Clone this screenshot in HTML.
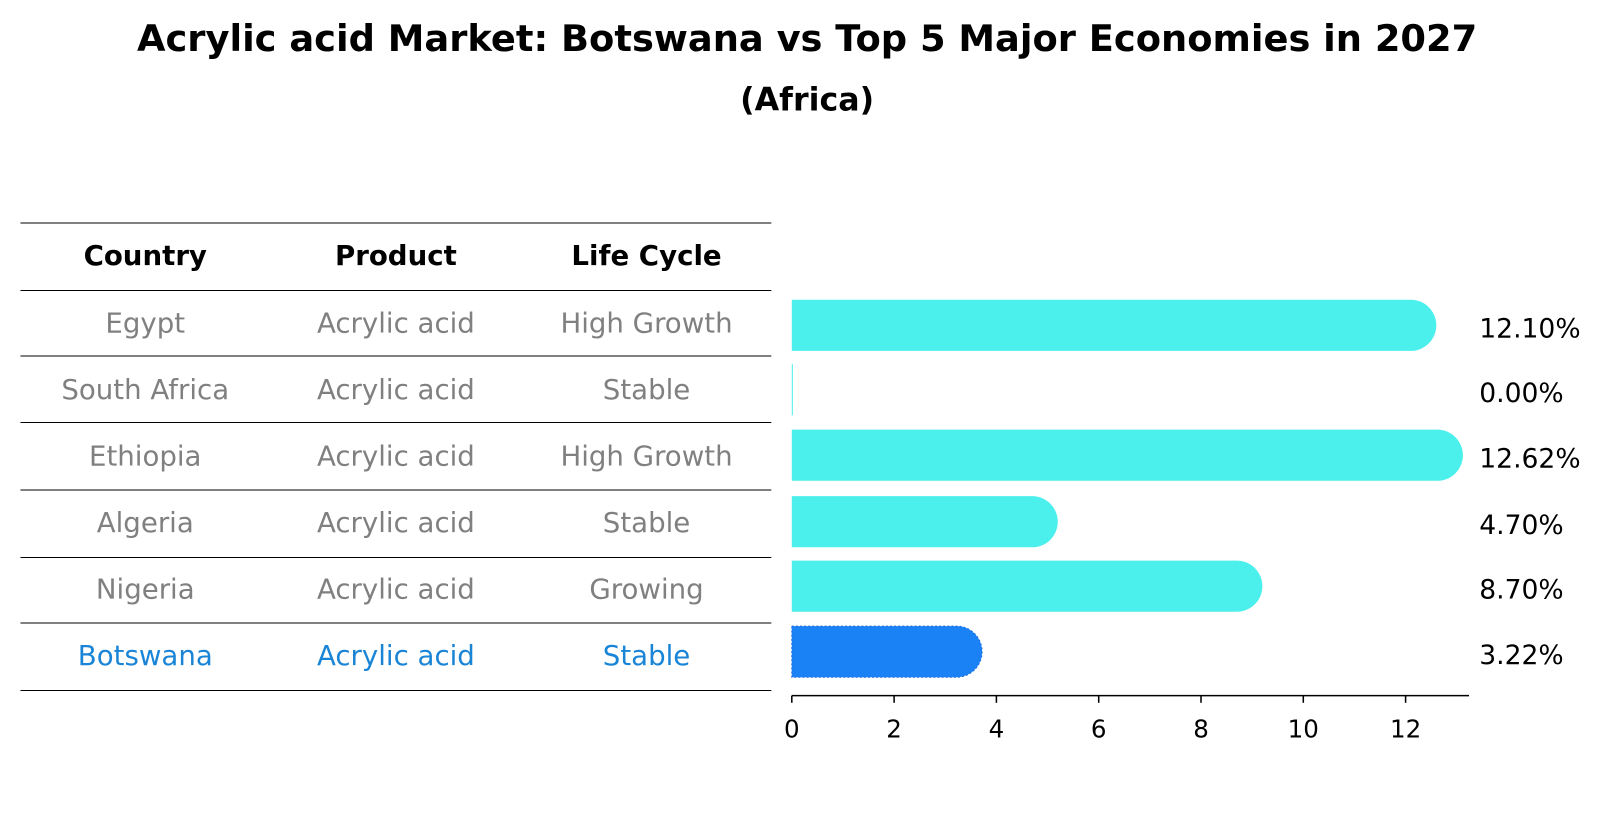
<!DOCTYPE html>
<html><head><meta charset="utf-8"><style>
body{margin:0;background:#fff;font-family:"Liberation Sans","DejaVu Sans",sans-serif;}
</style></head><body>
<svg width="1604" height="823" xmlns="http://www.w3.org/2000/svg" font-family="DejaVu Sans, Liberation Sans, sans-serif">
<g transform="scale(1.0230)">
<text x="789" y="50" text-anchor="middle" font-size="36" font-weight="bold">Acrylic acid Market: Botswana vs Top 5 Major Economies in 2027</text>
<text x="789" y="108" text-anchor="middle" font-size="31" font-weight="bold">(Africa)</text>
<g id="table"></g>
<g id="bars"></g>
</g>
</svg>
<script>
const countries=["Egypt","South Africa","Ethiopia","Algeria","Nigeria","Botswana"];
const products=["Acrylic acid","Acrylic acid","Acrylic acid","Acrylic acid","Acrylic acid","Acrylic acid"];
const lifeCycles=["High Growth","Stable","High Growth","Stable","Growing","Stable"];
const values=[12.10,0.00,12.62,4.70,8.70,3.22];
const valueLabels=["12.10%","0.00%","12.62%","4.70%","8.70%","3.22%"];
const ticks=[0,2,4,6,8,10,12];
const NS="http://www.w3.org/2000/svg";
function mk(tag,attrs,parent,txt){const e=document.createElementNS(NS,tag);for(const k in attrs)e.setAttribute(k,attrs[k]);if(txt!==undefined)e.textContent=txt;parent.appendChild(e);return e;}
const tb=document.getElementById('table');
const lineYs=[218,284,348,413,479,545,609,675];
lineYs.forEach(y=>{const l=mk('line',{x1:20,x2:754,y1:y,y2:y,stroke:'#000','stroke-width':1},tb);

});
const colX=[142,387,632];
["Country","Product","Life Cycle"].forEach((h,i)=>{const t=mk('text',{x:colX[i],y:259,'text-anchor':'middle','font-size':'27','font-weight':'bold'},tb,h);

});
const rowY=[325,390,455,520,585,650];
countries.forEach((c,i)=>{const col=i===5?'#1a85d6':'#808080';
[c,products[i],lifeCycles[i]].forEach((v,j)=>{const t=mk('text',{x:colX[j],y:rowY[i],'text-anchor':'middle','font-size':'27',fill:col},tb,v);

});});
const bg=document.getElementById('bars');
const x0=774,ppu=50;
function xs(v){return x0+v*ppu;}
const barCY=[318,381,445,510,573,637],bh=50;
values.forEach((v,i)=>{const col=i===5?'#1a82f5':'#4befec';const w=xs(v)-x0;const r=bh/2;
let d;
if(w<=0){d=`M${x0},${barCY[i]-r}h1v${bh}h-1z`;}
else d=`M${x0},${barCY[i]-r}h${w}a${r},${r} 0 0 1 0,${bh}h${-w}z`;
const p=mk('path',{d:d,fill:col},bg);
if(i===5){p.setAttribute('stroke','#1a6fe0');p.setAttribute('stroke-dasharray','2,2');}


const t=mk('text',{x:1446,y:barCY[i]+12,'font-size':'26'},bg,valueLabels[i]);

});
const ax=mk('line',{x1:x0,x2:1436,y1:680,y2:680,stroke:'#000','stroke-width':1.5},bg);


ticks.forEach(v=>{const l=mk('line',{x1:xs(v),x2:xs(v),y1:680,y2:687,stroke:'#000','stroke-width':1.5},bg);


const t=mk('text',{x:xs(v),y:721,'text-anchor':'middle','font-size':'24'},bg,String(v));

});
</script>
</body></html>
